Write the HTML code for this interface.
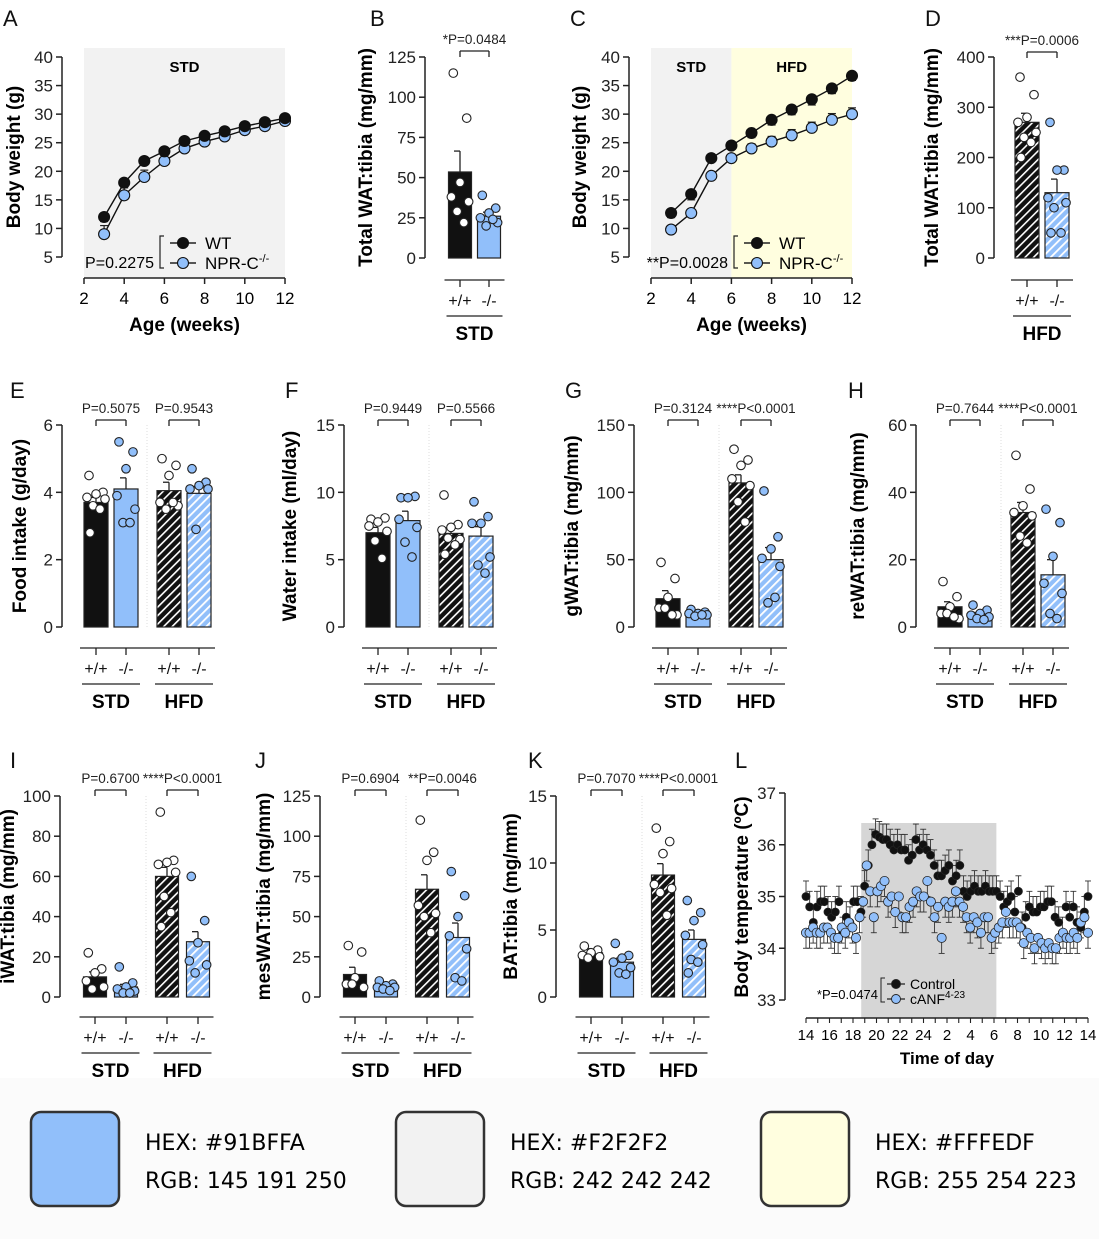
<!DOCTYPE html>
<html><head><meta charset="utf-8"><style>
html,body{margin:0;padding:0;background:#fff;}
svg{display:block;font-family:"Liberation Sans",Arial,sans-serif;}
.hex{font-family:"Comic Sans MS","DejaVu Sans",sans-serif;}
</style></head><body>
<svg id="fig" width="1099" height="1239" viewBox="0 0 1099 1239" xmlns="http://www.w3.org/2000/svg">
<defs>
<pattern id="hatchK" patternUnits="userSpaceOnUse" width="6" height="6" patternTransform="rotate(45)"><rect width="6" height="6" fill="#111"/><rect x="0" width="1.6" height="6" fill="#fff"/></pattern>
<pattern id="hatchB" patternUnits="userSpaceOnUse" width="6" height="6" patternTransform="rotate(45)"><rect width="6" height="6" fill="#91BFFA"/><rect x="0" width="1.8" height="6" fill="#fff"/></pattern>
</defs>
<rect x="0" y="1078" width="1099" height="161" fill="#fbfbfb"/>
<rect x="31" y="1112" width="88" height="94" rx="10" fill="#91BFFA" stroke="#333" stroke-width="2.5"/>
<text class="hex" x="145" y="1150" font-size="22">HEX: #91BFFA</text>
<text class="hex" x="145" y="1188" font-size="22">RGB: 145 191 250</text>
<rect x="396" y="1112" width="88" height="94" rx="10" fill="#F2F2F2" stroke="#333" stroke-width="2.5"/>
<text class="hex" x="510" y="1150" font-size="22">HEX: #F2F2F2</text>
<text class="hex" x="510" y="1188" font-size="22">RGB: 242 242 242</text>
<rect x="761" y="1112" width="88" height="94" rx="10" fill="#FFFEDF" stroke="#333" stroke-width="2.5"/>
<text class="hex" x="875" y="1150" font-size="22">HEX: #FFFEDF</text>
<text class="hex" x="875" y="1188" font-size="22">RGB: 255 254 223</text>
</svg>
<script>
// ---- data ----
const A_weeks=[3,4,5,6,7,8,9,10,11,12];
const A_wt=[12,18,21.8,23.5,25.3,26.2,27,27.9,28.6,29.3];
const A_ko=[9,15.8,19,21.8,24,25.2,26.1,27.2,27.9,28.8];
const A_wtErr=[0.8,0.5,0.5,0.5,0.5,0.5,0.5,0.5,0.5,0.5];
const A_koErr=[1.5,1.3,1.2,1.1,1.0,1.0,1.0,1.0,1.0,0.9];
const C_weeks=[3,4,5,6,7,8,9,10,11,12];
const C_wt=[12.7,16,22.3,24.5,26.7,29,30.8,32.6,34.5,36.7];
const C_ko=[9.8,12.7,19.2,22.3,24,25.2,26.3,27.6,29,30];
const C_wtErr=[0.8,1,0.6,0.6,0.8,0.9,0.9,1,0.9,0.8];
const C_koErr=[0.5,0.6,0.6,0.7,0.8,0.9,1,1,1.1,1.1];
const L_ctrl=[35.0,34.8,34.5,34.8,34.9,34.9,34.7,34.6,34.7,34.9,34.3,34.6,34.5,34.9,34.9,34.7,35.2,35.6,36.0,36.2,36.15,36.1,36.1,36.0,35.9,36.0,35.9,35.9,35.7,35.8,36.1,35.9,36.0,35.9,35.8,35.6,35.4,35.4,35.5,35.6,35.3,35.4,35.6,35.1,35.0,35.1,35.2,35.1,35.1,35.2,35.1,35.1,35.1,35.0,34.8,34.9,35.0,34.7,35.1,34.4,34.6,34.8,34.7,34.7,34.8,34.8,34.9,34.9,34.6,34.5,34.3,34.8,34.6,34.8,34.5,34.4,34.7,35.0];
const L_canf=[34.3,34.3,34.4,34.3,34.3,34.4,34.4,34.3,34.2,34.2,34.4,34.3,34.5,34.4,34.2,34.6,34.9,35.6,35.1,34.6,35.1,35.2,35.3,34.9,35.0,34.7,35.0,34.6,34.6,34.8,34.9,35.1,35.0,35.0,35.3,34.9,34.6,34.8,34.2,34.9,34.8,34.9,35.1,34.9,34.8,34.6,34.4,34.6,34.5,34.3,34.6,34.6,34.2,34.3,34.4,34.5,34.7,34.5,34.5,34.5,34.4,34.1,34.3,34.2,34.0,34.2,34.1,34.0,34.1,34.0,34.0,34.2,34.3,34.2,34.2,34.3,34.2,34.5,34.6,34.3];
const L_xticks=[14,16,18,20,22,24,2,4,6,8,10,12,14];
const B_means=[53.5,26]; const B_errs=[13,2.5];
const B_dots=[[115,87,47,38,35,29,22],[39,31,28,25,22,20,24]];
const D_means=[270,130]; const D_errs=[18,27];
const D_dots=[[360,325,280,270,250,240,230,200],[270,175,175,120,110,100,50,50]];
const E_means=[3.7,4.1,4.05,3.97]; const E_errs=[0.15,0.33,0.25,0.2];
const E_dots=[[4.5,4.0,3.95,3.85,3.8,3.6,3.5,2.8],[5.5,5.2,4.7,3.9,3.5,3.1,3.1],[5.0,4.8,4.5,3.7,3.6,3.5,3.7],[4.7,4.3,4.2,4.1,4.1,2.9]];
const F_means=[7.0,7.9,6.95,6.75]; const F_errs=[0.4,0.7,0.4,0.7];
const F_dots=[[8.0,8.1,7.8,7.5,7.1,6.4,5.1],[9.6,9.7,9.6,8.0,7.4,6.3,5.2],[9.8,7.6,7.4,7.2,6.5,6.6,6.1,5.4],[9.3,8.2,7.7,7.7,5.2,4.6,4.0]];
const G_means=[21,9.5,107,50]; const G_errs=[6,2,6,9];
const G_dots=[[48,36,22,14,9,14,9],[13,11,10,10,9,8,9],[132,124,120,110,105,93,78],[101,67,58,51,45,18,22]];
const H_means=[6,3.5,34,15.5]; const H_errs=[1.5,0.8,3,4.5];
const H_dots=[[13.5,9,6,4,2.5,4,3],[6.5,5,4,3.5,3,2.5,2.2],[51,41,36,34,33,27,25],[35,31,21,13,10,4,2.5]];
const I_means=[10,5,60,27.5]; const I_errs=[2.5,1.3,4.5,5];
const I_dots=[[22,14,12,8,5,4],[15,7,5,4,3,2,2],[92,68,67,66,62,50,42,35],[60,38,27,18,16,12]];
const J_means=[14,6.5,67,37]; const J_errs=[4.5,1,9,9];
const J_dots=[[32,28,12,8,6,8],[10,8,7,6,6,5,4],[110,90,85,57,52,50,40],[78,63,50,38,30,12,10]];
const K_means=[3.3,2.6,9.1,4.3]; const K_errs=[0.3,0.3,0.85,0.7];
const K_dots=[[3.8,3.5,3.3,3.1,3.0,2.9],[4.0,3.1,2.9,2.6,2.2,1.8,1.7],[12.6,11.6,10.7,8.4,8.1,7.8,6.1],[7.2,6.3,5.7,4.6,3.9,2.8,2.6,1.8]];

const svg=document.getElementById('fig');
const NS='http://www.w3.org/2000/svg';
const BLUE='#91BFFA';
function mk(tag,attrs,parent){const e=document.createElementNS(NS,tag);for(const k in attrs)e.setAttribute(k,attrs[k]);(parent||svg).appendChild(e);return e;}
function txt(x,y,s,size,opts,name){const e=mk('text',Object.assign({x:x,y:y,'font-size':size},opts||{}));e.textContent=s;


return e;}
function ln(x1,y1,x2,y2,w,name,col){const e=mk('line',{x1:x1,y1:y1,x2:x2,y2:y2,stroke:col||'#222','stroke-width':w||1.5});


return e;}
function ytitle(x,y,s,name){const e=txt(x,y,s,19,{'font-weight':'bold','text-anchor':'middle',transform:'rotate(-90 '+x+' '+y+')'},name);return e;}
function yaxis(ax,top,zero,min,max,step,prefix,extraTop){
  const sc=v=>zero-(v-min)/(max-min)*(zero-top);
  ln(ax,sc(max)-(extraTop||0),ax,zero,1.5,prefix+'-y-axis');
  for(let v=min;v<=max+1e-9;v+=step){ln(ax-6,sc(v),ax,sc(v),1.5,prefix+'-y-tick');txt(ax-9,sc(v)+6,String(+v.toFixed(2)),17,{'text-anchor':'end',fill:'#222'},prefix+'-y-tick-label');}
  return sc;}
function sig(x1,x2,yb,label,prefix){
  ln(x1,yb,x2,yb,1.3,prefix+'-sig-bracket');ln(x1,yb,x1,yb+6,1.3,prefix+'-sig-bracket');ln(x2,yb,x2,yb+6,1.3,prefix+'-sig-bracket');
  txt((x1+x2)/2,yb-7,label,13.5,{'text-anchor':'middle',fill:'#222'},prefix+'-p-value');}
const jit=[-7,7,0,-9,9,-3,4,-6,6];
function barPanel(cfg,means,errs,dots){
  const p=cfg.id;
  txt(cfg.lx,cfg.ly,cfg.letter,22,{fill:'#111'},p+'-panel-letter');
  ytitle(cfg.tx,(cfg.top+cfg.zero)/2,cfg.title,p+'-y-axis-title');
  const sc=yaxis(cfg.ax,cfg.top,cfg.zero,0,cfg.max,cfg.step,p);
  const fills=['#111',BLUE,'url(#hatchK)','url(#hatchB)'];
  const w=cfg.w;
  if(cfg.cents.length===4){ln(cfg.ax+cfg.sep,cfg.top,cfg.ax+cfg.sep,cfg.zero,1,p+'-group-separator','#ddd').setAttribute('stroke-dasharray','1 2');}
  means.forEach((m,i)=>{
    const cx=cfg.ax+cfg.cents[i];const fi=cfg.cents.length===2&&cfg.hfd?i+2:i;
    const r=mk('rect',{x:cx-w/2,y:sc(m),width:w,height:cfg.zero-sc(m),fill:fills[fi],stroke:'#222','stroke-width':1.2});
    
    
    ln(cx,sc(m),cx,sc(m+errs[i]),1.3,p+'-error-bar');ln(cx-6,sc(m+errs[i]),cx,sc(m+errs[i]),1.3,p+'-error-cap');
    dots[i].forEach((d,j)=>{const c=mk('circle',{cx:cx+jit[j%jit.length]*w/24,cy:sc(d),r:4.3,fill:(fi%2===1)?BLUE:'#fff',stroke:'#222','stroke-width':1.1});
      
      });
  });
  const xs=cfg.cents.map(c=>cfg.ax+c);
  ln(xs[0]-w/2-4,cfg.u1,xs[xs.length-1]+w/2+4,cfg.u1,1.3,p+'-genotype-line');
  xs.forEach((x,i)=>{ln(x,cfg.u1,x,cfg.u1+7,1.3,p+'-genotype-tick');txt(x,cfg.u1+26,i%2?'-/-':'+/+',16,{'text-anchor':'middle',fill:'#111'},p+'-genotype-label');});
  for(let g=0;g<xs.length/2;g++){const a=xs[2*g]-w/2-2,b=xs[2*g+1]+w/2+2;ln(a,cfg.u1+36,b,cfg.u1+36,1.3,p+'-diet-line');
    const lab=cfg.cents.length===2?(cfg.hfd?'HFD':'STD'):(g?'HFD':'STD');txt((a+b)/2,cfg.u1+60,lab,19,{'text-anchor':'middle','font-weight':'bold'},p+'-diet-label');}
  cfg.ps.forEach((s,g)=>sig(xs[2*g],xs[2*g+1],cfg.sy,s,p));
}
const row2={top:425,zero:627,w:24,cents:[34,64,107,137],sep:85,u1:648,sy:420,ly:398};
const row3={top:796,zero:997,w:23,cents:[35,66,107,138],sep:86,u1:1017,sy:790,ly:768};
barPanel(Object.assign({},row2,{id:'e',letter:'E',lx:10,ax:62,tx:26,max:6,step:2,title:'Food intake (g/day)',ps:['P=0.5075','P=0.9543']}),E_means,E_errs,E_dots);
barPanel(Object.assign({},row2,{id:'f',letter:'F',lx:285,ax:344,tx:296,max:15,step:5,title:'Water intake (ml/day)',ps:['P=0.9449','P=0.5566']}),F_means,F_errs,F_dots);
barPanel(Object.assign({},row2,{id:'g',letter:'G',lx:565,ax:634,tx:578,max:150,step:50,title:'gWAT:tibia (mg/mm)',ps:['P=0.3124','****P<0.0001']}),G_means,G_errs,G_dots);
barPanel(Object.assign({},row2,{id:'h',letter:'H',lx:848,ax:916,tx:864,max:60,step:20,title:'reWAT:tibia (mg/mm)',ps:['P=0.7644','****P<0.0001']}),H_means,H_errs,H_dots);
barPanel(Object.assign({},row3,{id:'i',letter:'I',lx:10,ax:60,tx:14,max:100,step:20,title:'iWAT:tibia (mg/mm)',ps:['P=0.6700','****P<0.0001']}),I_means,I_errs,I_dots);
barPanel(Object.assign({},row3,{id:'j',letter:'J',lx:255,ax:320,tx:270,max:125,step:25,title:'mesWAT:tibia (mg/mm)',ps:['P=0.6904','**P=0.0046']}),J_means,J_errs,J_dots);
barPanel(Object.assign({},row3,{id:'k',letter:'K',lx:528,ax:556,tx:517,max:15,step:5,title:'BAT:tibia (mg/mm)',ps:['P=0.7070','****P<0.0001']}),K_means,K_errs,K_dots);
barPanel({id:'b',letter:'B',lx:370,ly:26,ax:425,tx:372,top:57,zero:258,max:125,step:25,w:23,cents:[35,64],u1:280,sy:51,title:'Total WAT:tibia (mg/mm)',ps:['*P=0.0484']},B_means,B_errs,B_dots);
barPanel({id:'d',letter:'D',lx:925,ly:26,ax:994,tx:938,top:57,zero:258,max:400,step:100,w:24,cents:[33,63],u1:280,sy:52,hfd:true,title:'Total WAT:tibia (mg/mm)',ps:['***P=0.0006']},D_means,D_errs,D_dots);

function linePanel(cfg,xsd,s1,s2,e1,e2){
  const p=cfg.id;
  txt(cfg.lx,26,cfg.letter,22,{fill:'#111'},p+'-panel-letter');
  const xs=v=>cfg.x0+(v-2)/10*(cfg.x1-cfg.x0);
  cfg.bgs.forEach(b=>{const r=mk('rect',{x:xs(b[0]),y:48,width:xs(b[1])-xs(b[0]),height:230,fill:b[2]});
    
    
    txt((xs(b[0])+xs(b[1]))/2,72,b[3].toUpperCase(),15,{'text-anchor':'middle','font-weight':'bold'},p+'-'+b[3]+'-label');});
  ytitle(cfg.tx,157,'Body weight (g)',p+'-y-axis-title');
  const sc=yaxis(cfg.ax,57,257,5,40,5,p);
  ln(cfg.x0,278,cfg.x1,278,1.5,p+'-x-axis');
  for(let v=2;v<=12;v+=2){ln(xs(v),278,xs(v),284,1.5,p+'-x-tick');txt(xs(v),304,String(v),17,{'text-anchor':'middle'},p+'-x-tick-label');}
  txt((cfg.x0+cfg.x1)/2,331,'Age (weeks)',19,{'text-anchor':'middle','font-weight':'bold'},p+'-x-axis-title');
  [[s2,e2,BLUE,1],[s1,e1,'#111',-1]].forEach(([s,e,col,dir],k)=>{
    s.forEach((v,i)=>{ln(xs(xsd[i]),sc(v),xs(xsd[i]),sc(v+dir*e[i]),1.2,p+'-error-bar');ln(xs(xsd[i])-4,sc(v+dir*e[i]),xs(xsd[i])+4,sc(v+dir*e[i]),1.2,p+'-error-cap');});
    const pl=mk('polyline',{points:s.map((v,i)=>xs(xsd[i])+','+sc(v)).join(' '),fill:'none',stroke:'#111','stroke-width':1.4});
    
    
    s.forEach((v,i)=>{const c=mk('circle',{cx:xs(xsd[i]),cy:sc(v),r:5.5,fill:col,stroke:'#111','stroke-width':1.1});
      
      });
  });
  const L=cfg.legx;
  txt(L-6,268,cfg.pt,16,{'text-anchor':'end'},p+'-p-value');
  const br=mk('path',{d:'M'+(L+4)+' 236 H'+L+' V268 H'+(L+4),fill:'none',stroke:'#222','stroke-width':1.2});
  
  
  [['WT','#111',243],['NPR-C','BLUE',263]].forEach(([t,c,y],k)=>{ln(L+10,y,L+36,y,1.4,p+'-legend-line');
    const cc=mk('circle',{cx:L+23,cy:y,r:5.5,fill:k?BLUE:'#111',stroke:'#111','stroke-width':1.1});
    
    
    const t1=txt(L+45,y+6,t,17,{},p+'-legend-entry');
    if(k){const ts=mk('tspan',{dy:-7,'font-size':11},t1);ts.textContent='-/-';
      
      }
  });
}
linePanel({id:'a',letter:'A',lx:3,ax:62,tx:20,x0:84,x1:285,legx:160,pt:'P=0.2275',bgs:[[2,12,'#F2F2F2','std']]},A_weeks,A_wt,A_ko,A_wtErr,A_koErr);
linePanel({id:'c',letter:'C',lx:570,ax:629,tx:586,x0:651,x1:852,legx:734,pt:'**P=0.0028',bgs:[[2,6,'#F2F2F2','std'],[6,12,'#FFFEDF','hfd']]},C_weeks,C_wt,C_ko,C_wtErr,C_koErr);

// Panel L
(function(){
  const p='l';
  txt(735,768,'L',22,{fill:'#111'},'l-panel-letter');
  const x0=806,x1=1088;
  const xh=h=>x0+(h-14)/24*(x1-x0);
  const shade=mk('rect',{x:xh(18.7),y:823,width:xh(30.2)-xh(18.7),height:195,fill:'#d6d6d6'});
  
  
  ytitle(748,897,'Body temperature (ºC)','l-y-axis-title');
  const sc=yaxis(785,793,1000,33,37,1,p);
  ln(x0,1018,x1,1018,1.5,'l-x-axis');
  for(let h=14;h<=38;h++){ln(xh(h),1018,xh(h),1023,1.1,'l-x-tick');}
  L_xticks.forEach((t,i)=>txt(xh(14+2*i),1040,String(t),15,{'text-anchor':'middle'},'l-x-tick-label'));
  txt(947,1064,'Time of day',17,{'text-anchor':'middle','font-weight':'bold'},'l-x-axis-title');
  [[L_ctrl,'#111',1],[L_canf,BLUE,-1]].forEach(([s,col,dir],k)=>{
    const n=s.length;
    s.forEach((v,i)=>{const x=xh(14+24*i/(n-1));ln(x,sc(v),x,sc(v+dir*0.3),0.9,'l-error-bar','#333');ln(x-3,sc(v+dir*0.3),x+3,sc(v+dir*0.3),0.9,'l-error-cap','#333');});
  });
  [[L_ctrl,'#111',1],[L_canf,BLUE,-1]].forEach(([s,col,dir],k)=>{
    const n=s.length;
    s.forEach((v,i)=>{const c=mk('circle',{cx:xh(14+24*i/(n-1)),cy:sc(v),r:k?4.6:4,fill:col,stroke:'#222','stroke-width':0.8});
      
      });
  });
  txt(878,999,'*P=0.0474',13,{'text-anchor':'end'},'l-p-value');
  const br=mk('path',{d:'M885 978 H881 V1002 H885',fill:'none',stroke:'#222','stroke-width':1});
  
  
  [['Control','#111',984],['cANF',BLUE,999]].forEach(([t,c,y],k)=>{ln(887,y,905,y,1.2,'l-legend-line');
    const cc=mk('circle',{cx:896,cy:y,r:4.5,fill:c,stroke:'#222','stroke-width':0.9});
    
    
    const t1=txt(910,y+5,t,14,{},'l-legend-entry');
    if(k){const ts=mk('tspan',{dy:-6,'font-size':10},t1);ts.textContent='4-23';
      
      }
  });
})();
</script>
</body></html>
